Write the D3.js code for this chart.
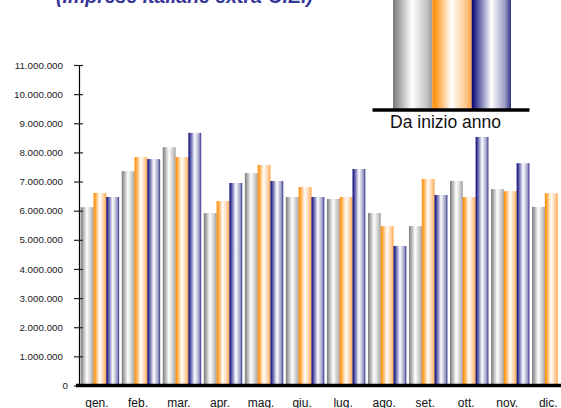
<!DOCTYPE html>
<html>
<head>
<meta charset="utf-8">
<script src="https://cdn.jsdelivr.net/npm/d3@7/dist/d3.min.js"></script>
<style>
  html, body { margin: 0; padding: 0; background: #fff; overflow: hidden; }
  svg { display: block; }
  text { font-family: Arial, "Liberation Sans", sans-serif; }
</style>
</head>
<body>
<svg id="chart" width="561" height="408"></svg>
<script>
// ---- data ----
const months = ["gen.","feb.","mar.","apr.","mag.","giu.","lug.","ago.","set.","ott.","nov.","dic."];
const seriesNames = ["serieGrigia","serieArancio","serieBlu"];
const valuesGray   = [6120000, 7360000, 8180000, 5920000, 7290000, 6470000, 6400000, 5920000, 5470000, 7020000, 6740000, 6130000];
const valuesOrange = [6610000, 7840000, 7840000, 6330000, 7570000, 6810000, 6470000, 5470000, 7090000, 6470000, 6670000, 6600000];
const valuesBlue   = [6470000, 7770000, 8670000, 6950000, 7020000, 6470000, 7430000, 4790000, 6540000, 8530000, 7630000, null];
const tickValues = [0,1000000,2000000,3000000,4000000,5000000,6000000,7000000,8000000,9000000,10000000,11000000];
const titleText = "(Imprese italiane extra-U.E.)";
const legendTitle = "Da inizio anno";

const seriesValues = [valuesGray, valuesOrange, valuesBlue];
const gradStops = [
  [["0%","#7a7a7a"],["12%","#9a9a9a"],["48%","#ffffff"],["85%","#c4c4c4"],["100%","#9a9a9a"]],
  [["0%","#ff8c00"],["12%","#ffa030"],["48%","#ffffff"],["85%","#ffc890"],["100%","#ffa040"]],
  [["0%","#000070"],["12%","#40409a"],["50%","#ffffff"],["85%","#9a9ac4"],["100%","#30308a"]]
];

const svg = d3.select("#chart");
const defs = svg.append("defs");
gradStops.forEach((stops, i) => {
  const g = defs.append("linearGradient").attr("id", "grad" + i)
    .attr("x1", "0%").attr("x2", "100%").attr("y1", "0%").attr("y2", "0%");
  stops.forEach(s => g.append("stop").attr("offset", s[0]).attr("stop-color", s[1]));
});

// ---- scales ----
const y = d3.scaleLinear().domain([0, 11000000]).range([385.5, 65]);
const x0 = d3.scaleBand().domain(months).range([79.4, 571.8]).paddingInner(0.0634).paddingOuter(0.0317);
const x1 = d3.scaleBand().domain(seriesNames).range([0, x0.bandwidth()]).padding(0);

const itFmt = d3.formatLocale({decimal: ",", thousands: ".", grouping: [3], currency: ["€", ""]}).format(",d");

// ---- title ----
svg.append("text").attr("x", 56).attr("y", 3)
  .attr("font-size", 19.5).attr("font-weight", "bold").attr("font-style", "italic")
  .attr("fill", "#35359a").text(titleText);

// ---- bars ----
const groups = svg.append("g").selectAll("g").data(months).join("g")
  .attr("transform", d => `translate(${x0(d)},0)`);
groups.selectAll("rect")
  .data((m, mi) => seriesNames.map((s, si) => ({s, si, v: seriesValues[si][mi]})).filter(d => d.v != null))
  .join("rect")
  .attr("x", d => x1(d.s))
  .attr("width", x1.bandwidth())
  .attr("y", d => y(d.v))
  .attr("height", d => y(0) - y(d.v))
  .attr("fill", d => `url(#grad${d.si})`);

// ---- y axis ----
const yAxis = d3.axisLeft(y).tickValues(tickValues).tickFormat(itFmt).tickSize(0).tickPadding(16);
const ga = svg.append("g").attr("transform", "translate(79,0)").call(yAxis);
ga.select(".domain").attr("stroke", "#000").attr("stroke-width", 1.2);
ga.selectAll(".tick").append("line").attr("x1", -5).attr("x2", 4).attr("stroke", "#222").attr("stroke-width", 1.2);
ga.selectAll(".tick text").attr("font-size", 9.8).attr("fill", "#222")
  .attr("font-family", "Arial, 'Liberation Sans', sans-serif")
  .attr("dx", d => d === 0 ? 5 : 0);

// ---- x axis (thick baseline) ----
const xAxis = d3.axisBottom(x0).tickSize(0).tickPadding(13);
const gx = svg.append("g").attr("transform", `translate(0,${y(0)})`).call(xAxis);
gx.select(".domain").remove();
gx.append("line").attr("x1", 76).attr("x2", 561).attr("y1", 0).attr("y2", 0)
  .attr("stroke", "#000").attr("stroke-width", 3.6);
gx.selectAll(".tick text").attr("font-size", 12).attr("fill", "#111")
  .attr("font-family", "Arial, 'Liberation Sans', sans-serif").attr("dx", -3);

// ---- year-to-date mini chart (cropped at top) ----
const lx = d3.scaleBand().domain(seriesNames).range([393, 511]).padding(0);
svg.append("g").selectAll("rect").data(seriesNames).join("rect")
  .attr("x", d => lx(d)).attr("width", lx.bandwidth())
  .attr("y", -10).attr("height", 119)
  .attr("fill", (d, i) => `url(#grad${i})`);
svg.append("line").attr("x1", 372.5).attr("x2", 529.5).attr("y1", 110).attr("y2", 110)
  .attr("stroke", "#000").attr("stroke-width", 3.5);
svg.append("text").attr("x", 445.5).attr("y", 127.5).attr("text-anchor", "middle")
  .attr("font-size", 17.5).attr("fill", "#111").text(legendTitle);
</script>
</body>
</html>
